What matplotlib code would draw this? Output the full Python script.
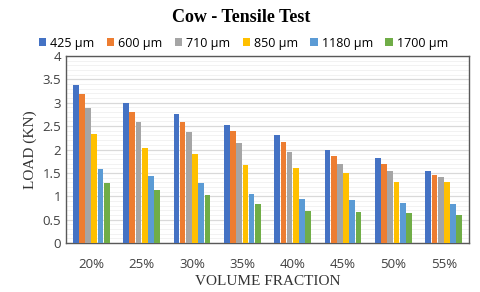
import numpy as np
import matplotlib.pyplot as plt
from matplotlib.ticker import MultipleLocator

fractions = ['20%', '25%', '30%', '35%', '40%', '45%', '50%', '55%']
sizes = ['425 µm', '600 µm', '710 µm', '850 µm', '1180 µm', '1700 µm']
colors = ['#4472C4', '#ED7D31', '#A5A5A5', '#FFC000', '#5B9BD5', '#70AD47']

load_425 = [3.37, 2.99, 2.77, 2.53, 2.30, 2.00, 1.82, 1.55]
load_600 = [3.18, 2.80, 2.58, 2.39, 2.17, 1.86, 1.68, 1.45]
load_710 = [2.88, 2.59, 2.38, 2.14, 1.95, 1.69, 1.55, 1.41]
load_850 = [2.33, 2.03, 1.90, 1.66, 1.60, 1.49, 1.31, 1.30]
load_1180 = [1.59, 1.43, 1.29, 1.05, 0.94, 0.92, 0.86, 0.83]
load_1700 = [1.29, 1.13, 1.02, 0.84, 0.69, 0.66, 0.64, 0.60]

series = [load_425, load_600, load_710, load_850, load_1180, load_1700]

fig = plt.figure(figsize=(4.8, 2.92), dpi=100)
ax = fig.add_axes([0.1375, 0.168, 0.8395, 0.64])

x = np.arange(len(fractions))
w = 0.123
for i, (vals, lab, c) in enumerate(zip(series, sizes, colors)):
    ax.bar(x + (i - 2.5) * w, vals, w * 0.92, color=c, label=lab, zorder=3)

ax.set_xlim(-0.5, len(fractions) - 0.5)
ax.set_ylim(0, 4)
ax.yaxis.set_major_locator(MultipleLocator(0.5))
ax.yaxis.set_minor_locator(MultipleLocator(0.1))
ax.grid(axis='y', which='major', color='#D9D9D9', linewidth=0.9, zorder=0)
ax.grid(axis='y', which='minor', color='#F0F0F0', linewidth=0.6, zorder=0)
ax.set_axisbelow(True)

ax.set_xticks(x)
ax.set_xticklabels(fractions)
ax.tick_params(axis='both', which='both', length=0, labelsize=9.5, colors='#404040')
ax.tick_params(axis='x', pad=11)
ax.set_yticks(np.arange(0, 4.01, 0.5))
ax.set_yticklabels(['0', '0.5', '1', '1.5', '2', '2.5', '3', '3.5', '4'])
for lbl in ax.get_xticklabels() + ax.get_yticklabels():
    lbl.set_family('Open Sans')

for s in ax.spines.values():
    s.set_color('#595959')
    s.set_linewidth(1.0)

ax.set_xlabel('VOLUME FRACTION', family='Liberation Serif', fontsize=11, labelpad=3, color='#333333')
ax.set_ylabel('LOAD (KN)', family='Liberation Serif', fontsize=11, labelpad=4, color='#333333')

fig.text(0.502, 0.94, 'Cow - Tensile Test', ha='center', va='center',
         family='Liberation Serif', fontweight='bold', fontsize=13)

fig.legend(loc='center', bbox_to_anchor=(0.507, 0.852), ncol=6, frameon=False,
           prop={'family': 'Open Sans', 'size': 9}, handlelength=0.6, handleheight=0.6,
           handletextpad=0.3, columnspacing=1.0)

fig.savefig('out.png', dpi=100)
